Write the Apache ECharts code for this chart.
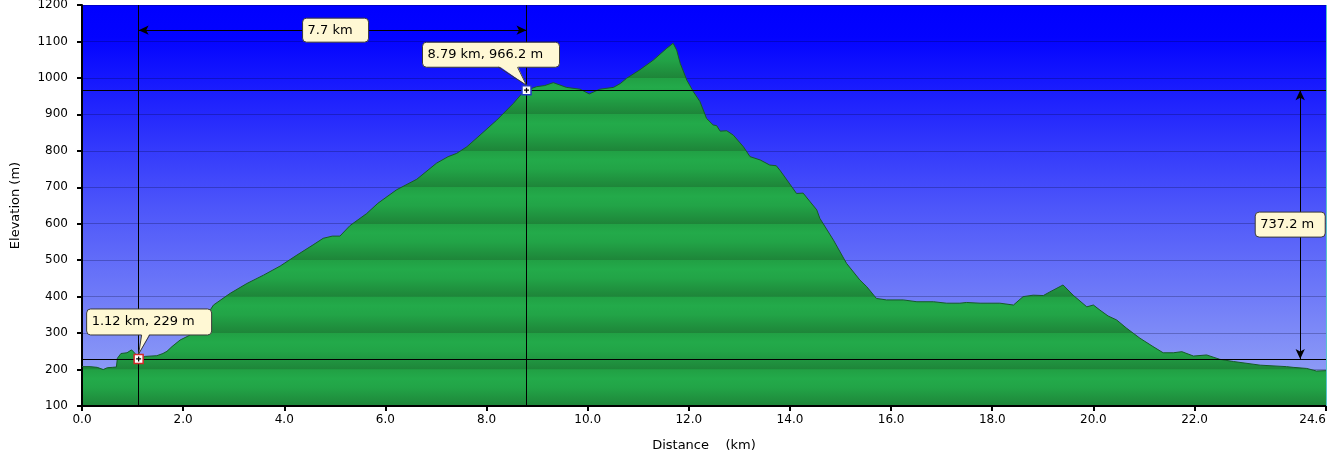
<!DOCTYPE html>
<html>
<head>
<meta charset="utf-8">
<script src="https://cdn.jsdelivr.net/npm/echarts@6/dist/echarts.min.js"></script>
<style>
html,body{margin:0;padding:0;background:#fff;}
#c{width:1331px;height:456px;}
</style>
</head>
<body>
<div id="c"></div>
<script>
// ---------- data ----------
const distanceKm = [
  0.00,0.16,0.30,0.42,0.50,0.60,0.68,0.70,0.77,0.89,0.98,1.05,1.12,1.25,1.48,1.60,1.68,1.78,1.94,2.10,
  2.27,2.45,2.60,2.93,3.26,3.59,3.92,4.25,4.57,4.77,4.95,5.10,5.30,5.63,5.85,6.22,6.62,7.01,7.24,7.41,
  7.61,7.87,8.20,8.53,8.73,8.79,8.99,9.15,9.32,9.58,9.85,10.03,10.24,10.51,10.65,10.77,11.03,11.30,11.56,11.69,
  11.76,11.83,11.96,12.09,12.22,12.35,12.48,12.55,12.62,12.75,12.88,13.08,13.21,13.41,13.60,13.73,13.80,13.94,14.13,14.26,
  14.40,14.53,14.59,14.86,15.12,15.38,15.52,15.71,15.91,16.24,16.51,16.84,17.10,17.36,17.49,17.76,18.15,18.42,18.61,18.81,
  19.01,19.14,19.40,19.60,19.87,20.00,20.13,20.29,20.46,20.66,20.92,21.18,21.38,21.58,21.75,21.98,22.24,22.50,22.77,23.30,
  23.82,23.95,24.22,24.41,24.60
];
const elevationM = [
  208,208,206,200,205,206,207,231,244,246,254,244,229,236,238,244,250,263,281,292,
  308,345,377,409,436,459,484,514,542,560,566,566,595,628,656,693,722,766,784,793,
  811,843,884,930,962,966.2,976,979,987,974,969,956,969,974,985,999,1022,1049,1081,1095,
  1076,1040,994,962,935,889,871,869,854,855,843,811,784,775,761,759,747,720,683,684,
  660,638,615,555,491,446,427,395,391,391,386,386,382,382,384,382,382,377,400,404,
  403,413,432,404,372,377,363,347,336,313,286,263,246,246,249,237,240,228,222,212,
  208,206,203,196,197
];
const xTickValues = [0,2,4,6,8,10,12,14,16,18,20,22,24.6];
const yTickMin = 100, yTickMax = 1200, yTickStep = 100;
const markerA = [1.12, 229];
const markerB = [8.79, 966.2];
const markerALabel = '1.12 km, 229 m';
const markerBLabel = '8.79 km, 966.2 m';
const spanLabel = '7.7 km';
const riseLabel = '737.2 m';
const spanArrowElevation = 1131;
const riseArrowKm = 24.09;

// ---------- style / layout ----------
const FONT = '"DejaVu Sans", Verdana, sans-serif';
const CREAM = '#fff8d4';
const W = 1331, H = 456;
const GRID = {left: 82, right: 5, top: 5, bottom: 50};
const plotTop = GRID.top, plotBottom = H - GRID.bottom;

const nBands = (yTickMax - yTickMin) / yTickStep;
const greenStops = [];
for (let i = 0; i < nBands; i++) {
  const t = i / nBands, w = 1 / nBands;
  greenStops.push({offset: t, color: '#21a044'});
  greenStops.push({offset: t + 0.25 * w, color: '#23aa4a'});
  greenStops.push({offset: t + 0.5 * w, color: '#22a447'});
  greenStops.push({offset: t + 0.85 * w, color: '#1f8e3d'});
  greenStops.push({offset: t + 0.995 * w, color: '#1e8539'});
}
greenStops.push({offset: 1, color: '#1e8539'});
const greenFill = new echarts.graphic.LinearGradient(0, plotTop, 0, plotBottom, greenStops, true);
const skyFill = new echarts.graphic.LinearGradient(0, 0, 0, 1, [
  {offset: 0, color: '#0000ff'},
  {offset: 0.08, color: '#0303ff'},
  {offset: 0.5, color: '#4c55fa'},
  {offset: 1, color: '#9aa9f5'}
]);

const profile = distanceKm.map((d, i) => [d, elevationM[i]]);
const plusPath = 'path://M3,0H5V3H8V5H5V8H3V5H0V3H3Z';

const chart = echarts.init(document.getElementById('c'), null, {renderer: 'canvas'});
const option = {
  animation: false,
  grid: {left: GRID.left, right: GRID.right, top: GRID.top, bottom: GRID.bottom,
         containLabel: false, outerBoundsMode: 'none',
         show: true, backgroundColor: skyFill, borderWidth: 0},
  xAxis: {
    type: 'value', min: 0, max: 24.6, interval: 2, z: 3,
    name: 'Distance    (km)', nameLocation: 'middle', nameGap: 33,
    nameTextStyle: {fontFamily: FONT, fontSize: 13, color: '#000'},
    axisLine: {show: true, onZero: false, lineStyle: {color: '#000', width: 2}},
    axisTick: {show: true, inside: false, length: 5, lineStyle: {color: '#000', width: 2}, customValues: xTickValues},
    axisLabel: {color: '#000', fontFamily: FONT, fontSize: 12, margin: 8, alignMaxLabel: 'right',
                customValues: xTickValues, formatter: v => Number(v).toFixed(1)},
    splitLine: {show: false}
  },
  yAxis: {
    type: 'value', min: yTickMin, max: yTickMax, interval: yTickStep, z: 3,
    name: 'Elevation (m)', nameLocation: 'middle', nameGap: 60,
    nameTextStyle: {fontFamily: FONT, fontSize: 13, color: '#000'},
    axisLine: {show: true, lineStyle: {color: '#000', width: 2}},
    axisTick: {show: true, inside: false, length: 5, lineStyle: {color: '#000', width: 2}},
    axisLabel: {color: '#000', fontFamily: FONT, fontSize: 12, margin: 14, formatter: v => String(v)},
    splitLine: {show: true, lineStyle: {color: 'rgba(0,0,40,0.25)', width: 1}}
  },
  series: [{
    type: 'line', data: profile, showSymbol: false, symbol: 'none', smooth: false,
    lineStyle: {color: '#175a28', width: 1},
    areaStyle: {color: greenFill, origin: 'start', opacity: 1},
    markLine: {
      silent: true, symbol: ['none', 'none'], animation: false,
      label: {show: false},
      lineStyle: {color: '#000', width: 1, type: 'solid'},
      data: [
        {xAxis: markerA[0]},
        {xAxis: markerB[0]},
        {yAxis: markerA[1]},
        {yAxis: markerB[1]},
        {xAxis: 24.6, lineStyle: {color: '#55c4cc', width: 1, type: 'solid'}},
        [
          {coord: [markerA[0], spanArrowElevation], symbol: 'arrow', symbolSize: [7, 10]},
          {coord: [markerB[0], spanArrowElevation], symbol: 'arrow', symbolSize: [7, 10]}
        ],
        [
          {coord: [riseArrowKm, markerB[1]], symbol: 'arrow', symbolSize: [7, 10]},
          {coord: [riseArrowKm, markerA[1]], symbol: 'arrow', symbolSize: [7, 10]}
        ]
      ]
    },
    markPoint: {
      silent: true, animation: false, label: {show: false},
      data: [
        {coord: markerA, symbol: 'rect', symbolSize: 9, itemStyle: {color: '#fff', borderColor: '#d42a2a', borderWidth: 1.5}},
        {coord: markerA, symbol: plusPath, symbolSize: 5, itemStyle: {color: '#000'}},
        {coord: markerB, symbol: 'rect', symbolSize: 9, itemStyle: {color: '#fff', borderColor: '#2438c8', borderWidth: 1.5}},
        {coord: markerB, symbol: plusPath, symbolSize: 5, itemStyle: {color: '#000'}}
      ]
    }
  }]
};
chart.setOption(option);

// ---------- callouts (placed from the library's own scales) ----------
const toPx = v => chart.convertToPixel({gridIndex: 0}, v);
function box(x, y, w, h, text, z) {
  return [
    {type: 'rect', z: z, shape: {x: x, y: y, width: w, height: h, r: 4},
     style: {fill: CREAM, stroke: '#3a3a3a', lineWidth: 1}},
    {type: 'text', z: z + 2, x: x + 5, y: y + h / 2,
     style: {text: text, font: '13px ' + FONT, fill: '#000', align: 'left', verticalAlign: 'middle'}}
  ];
}
function callout(p, text, dx, dy, w, h, baseL, baseR) {
  const bx = p[0] + dx, by = p[1] + dy, bottom = by + h;
  const tip = [p[0], p[1] - 5];
  return box(bx, by, w, h, text, 50).concat([
    {type: 'polygon', z: 51, shape: {points: [tip, [p[0] + baseL, bottom - 1.5], [p[0] + baseR, bottom - 1.5]]},
     style: {fill: CREAM}},
    {type: 'polyline', z: 51, shape: {points: [[p[0] + baseL, bottom], tip, [p[0] + baseR, bottom]]},
     style: {stroke: '#3a3a3a', fill: null, lineWidth: 1}}
  ]);
}
const pA = toPx(markerA), pB = toPx(markerB);
const spanMid = toPx([(markerA[0] + markerB[0]) / 2, spanArrowElevation]);
const riseMid = toPx([riseArrowKm, (markerA[1] + markerB[1]) / 2]);
let elements = [];
elements = elements.concat(callout(pA, markerALabel, -52, -50, 125, 26, 3, 11));
elements = elements.concat(callout(pB, markerBLabel, -104, -48, 137, 25, -28, -9));
elements = elements.concat(box(spanMid[0] - 30, spanMid[1] - 12, 66, 24, spanLabel, 50));
elements = elements.concat(box(riseMid[0] - 45, riseMid[1] - 12.5, 70, 25, riseLabel, 50));
chart.setOption({graphic: {elements: elements}});
</script>
</body>
</html>
